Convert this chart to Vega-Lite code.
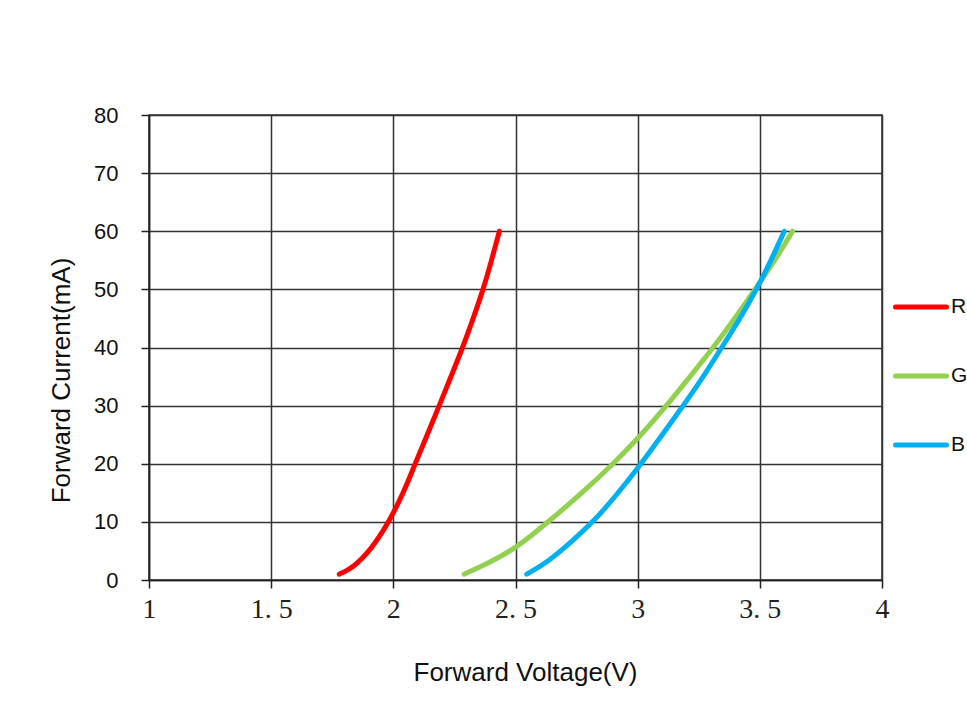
{
  "$schema": "https://vega.github.io/schema/vega-lite/v6.json",
  "width": 733,
  "height": 465,
  "autosize": {"type": "none"},
  "padding": {"left": 149, "top": 115, "right": 85, "bottom": 128},
  "background": "white",
  "data": {
    "values": [
      {"series": "R", "V": 1.779, "I": 1.0},
      {"series": "R", "V": 1.809, "I": 1.6},
      {"series": "R", "V": 1.836, "I": 2.3},
      {"series": "R", "V": 1.87, "I": 3.6},
      {"series": "R", "V": 1.905, "I": 5.2},
      {"series": "R", "V": 1.939, "I": 7.2},
      {"series": "R", "V": 1.98, "I": 9.9},
      {"series": "R", "V": 2.041, "I": 14.9},
      {"series": "R", "V": 2.089, "I": 20.0},
      {"series": "R", "V": 2.139, "I": 25.0},
      {"series": "R", "V": 2.188, "I": 30.0},
      {"series": "R", "V": 2.236, "I": 35.0},
      {"series": "R", "V": 2.284, "I": 40.0},
      {"series": "R", "V": 2.327, "I": 45.0},
      {"series": "R", "V": 2.368, "I": 50.0},
      {"series": "R", "V": 2.402, "I": 55.0},
      {"series": "R", "V": 2.434, "I": 60.0},
      {"series": "G", "V": 2.29, "I": 1.0},
      {"series": "G", "V": 2.389, "I": 2.9},
      {"series": "G", "V": 2.502, "I": 5.45},
      {"series": "G", "V": 2.634, "I": 10.0},
      {"series": "G", "V": 2.771, "I": 14.9},
      {"series": "G", "V": 2.9, "I": 20.0},
      {"series": "G", "V": 3.003, "I": 24.4},
      {"series": "G", "V": 3.119, "I": 30.0},
      {"series": "G", "V": 3.214, "I": 35.0},
      {"series": "G", "V": 3.31, "I": 40.0},
      {"series": "G", "V": 3.398, "I": 45.0},
      {"series": "G", "V": 3.48, "I": 50.0},
      {"series": "G", "V": 3.562, "I": 55.0},
      {"series": "G", "V": 3.634, "I": 60.0},
      {"series": "B", "V": 2.546, "I": 1.0},
      {"series": "B", "V": 2.634, "I": 3.15},
      {"series": "B", "V": 2.73, "I": 6.6},
      {"series": "B", "V": 2.825, "I": 10.3},
      {"series": "B", "V": 2.907, "I": 14.3},
      {"series": "B", "V": 3.0, "I": 19.2},
      {"series": "B", "V": 3.085, "I": 24.1},
      {"series": "B", "V": 3.187, "I": 30.0},
      {"series": "B", "V": 3.269, "I": 35.0},
      {"series": "B", "V": 3.344, "I": 40.0},
      {"series": "B", "V": 3.419, "I": 45.0},
      {"series": "B", "V": 3.487, "I": 50.0},
      {"series": "B", "V": 3.546, "I": 55.0},
      {"series": "B", "V": 3.6, "I": 60.0}
    ]
  },
  "mark": {"type": "line", "interpolate": "basis", "strokeWidth": 5, "strokeCap": "round", "strokeJoin": "round"},
  "encoding": {
    "x": {
      "field": "V",
      "type": "quantitative",
      "scale": {"domain": [1, 4], "nice": false, "zero": false},
      "axis": {
        "title": "Forward Voltage(V)",
        "values": [1, 1.5, 2, 2.5, 3, 3.5, 4],
        "labelExpr": "replace(format(datum.value, '.1~f'), '.', '. ')",
        "labelFont": "Liberation Serif",
        "labelFontSize": 28,
        "labelColor": "#222",
        "labelPadding": 7,
        "labelFlush": false,
        "tickSize": 8,
        "tickColor": "#222",
        "tickWidth": 1.5,
        "domainColor": "#222",
        "domainWidth": 1.5,
        "gridColor": "#333",
        "gridWidth": 1.5,
        "gridOpacity": 1,
        "titleFont": "Liberation Sans",
        "titleFontSize": 26,
        "titleFontWeight": "normal",
        "titleColor": "#111",
        "titleX": 376,
        "titleY": 79
      }
    },
    "y": {
      "field": "I",
      "type": "quantitative",
      "scale": {"domain": [0, 80], "nice": false},
      "axis": {
        "title": "Forward Current(mA)",
        "values": [0, 10, 20, 30, 40, 50, 60, 70, 80],
        "labelFont": "Liberation Sans",
        "labelFontSize": 22,
        "labelColor": "#111",
        "labelPadding": 23,
        "labelFlush": false,
        "tickSize": 8,
        "tickColor": "#222",
        "tickWidth": 1.5,
        "domainColor": "#222",
        "domainWidth": 1.5,
        "gridColor": "#333",
        "gridWidth": 1.5,
        "gridOpacity": 1,
        "titleFont": "Liberation Sans",
        "titleFontSize": 26,
        "titleFontWeight": "normal",
        "titleColor": "#111",
        "titleX": -75,
        "titleY": 265
      }
    },
    "color": {
      "field": "series",
      "type": "nominal",
      "scale": {"domain": ["R", "G", "B"], "range": ["#FF0000", "#92D050", "#00B0F0"]},
      "legend": {
        "title": null,
        "orient": "none",
        "legendX": 744,
        "legendY": 164,
        "padding": 0,
        "symbolType": "stroke",
        "symbolSize": 2601,
        "symbolStrokeWidth": 5,
        "rowPadding": 31,
        "labelFont": "Liberation Sans",
        "labelFontSize": 21,
        "labelColor": "#111",
        "labelOffset": 2,
        "encode": {"symbols": {"update": {"strokeCap": {"value": "round"}}}}
      }
    }
  },
  "config": {
    "view": {"stroke": "#333", "strokeWidth": 1.5},
    "axis": {"grid": true}
  }
}
